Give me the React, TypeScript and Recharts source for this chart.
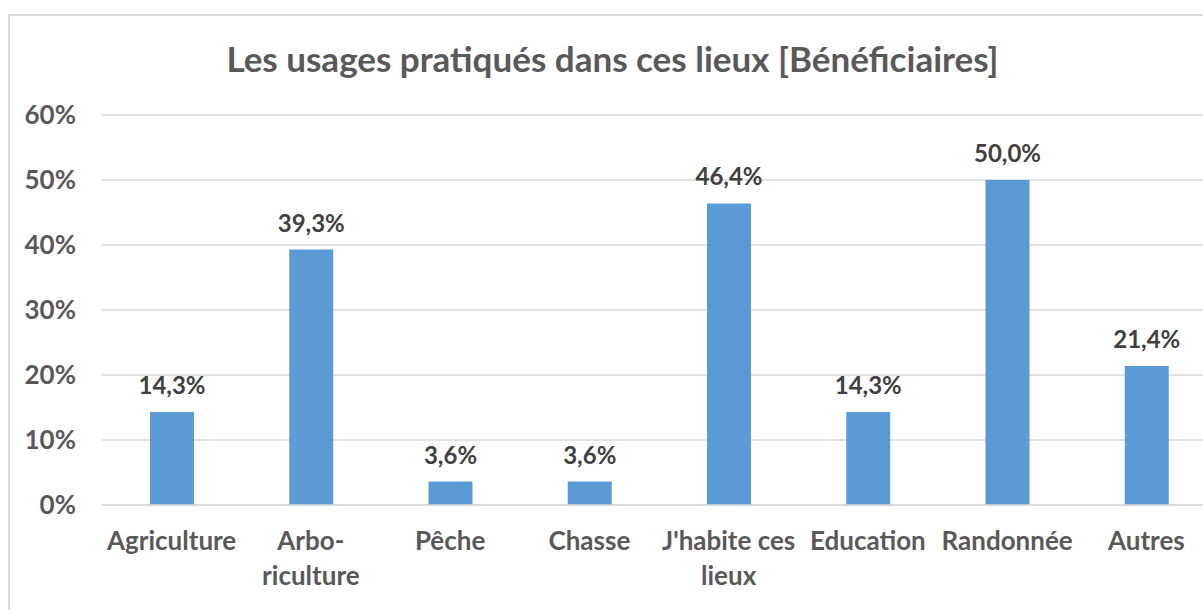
import { BarChart, Bar, XAxis, YAxis, CartesianGrid, LabelList } from 'recharts';

const categories = [
  'Agriculture',
  'Arbo-\nriculture',
  'Pêche',
  'Chasse',
  "J'habite ces\nlieux",
  'Education',
  'Randonnée',
  'Autres',
];
const values = [14.3, 39.3, 3.6, 3.6, 46.4, 14.3, 50.0, 21.4];
const yTicks = [0, 10, 20, 30, 40, 50, 60];

const data = categories.map((name, i) => ({ name, value: values[i] }));

const FONT = 'Lato, "Open Sans", sans-serif';

function CategoryTick(props: any) {
  const { x, y, payload } = props;
  const lines = String(payload.value).split('\n');
  return (
    <text x={x} y={y} textAnchor="middle" fill="#595959" fontSize={26} fontWeight={700} fontFamily={FONT}>
      {lines.map((line, i) => (
        <tspan key={i} x={x} y={y + 45 + i * 35}>
          {line}
        </tspan>
      ))}
    </text>
  );
}

export default function App() {
  return (
    <div style={{ position: 'fixed', left: 0, top: 0, width: 1203, height: 610, overflow: 'hidden', background: '#fff' }}>
      <div
        style={{
          position: 'absolute',
          left: 8,
          top: 14,
          width: 1210,
          height: 620,
          border: '2px solid #d9d9d9',
          background: '#fff',
        }}
      >
        <div
          style={{
            position: 'absolute',
            left: 0,
            width: 1205,
            top: 21,
            lineHeight: 1.2,
            textAlign: 'center',
            fontFamily: FONT,
            fontWeight: 700,
            fontSize: 35,
            color: '#595959',
            whiteSpace: 'nowrap',
          }}
        >
          Les usages pratiqués dans ces lieux [Bénéficiaires]
        </div>
        <BarChart
          width={1210}
          height={594}
          data={data}
          margin={{ top: 99, right: 4, bottom: 15, left: 0 }}
        >
          <CartesianGrid vertical={false} stroke="#d9d9d9" strokeWidth={1.5} />
          <XAxis
            dataKey="name"
            interval={0}
            height={90}
            tickLine={false}
            tickSize={0}
            tickMargin={0}
            axisLine={{ stroke: '#d9d9d9', strokeWidth: 1.5 }}
            tick={<CategoryTick />}
          />
          <YAxis
            width={92}
            domain={[0, 60]}
            ticks={yTicks}
            interval={0}
            axisLine={false}
            tickLine={false}
            tickSize={0}
            tickMargin={26}
            tickFormatter={(v: number) => `${v}%`}
            tick={{ fill: '#595959', fontSize: 26, fontWeight: 700, fontFamily: FONT }}
          />
          <Bar dataKey="value" fill="#5b9bd5" barSize={44} isAnimationActive={false}>
            <LabelList
              dataKey="value"
              position="top"
              offset={18}
              formatter={(v: number) => `${v.toFixed(1).replace('.', ',')}%`}
              style={{ fill: '#404040', fontSize: 24, fontWeight: 700, fontFamily: FONT }}
            />
          </Bar>
        </BarChart>
      </div>
    </div>
  );
}
